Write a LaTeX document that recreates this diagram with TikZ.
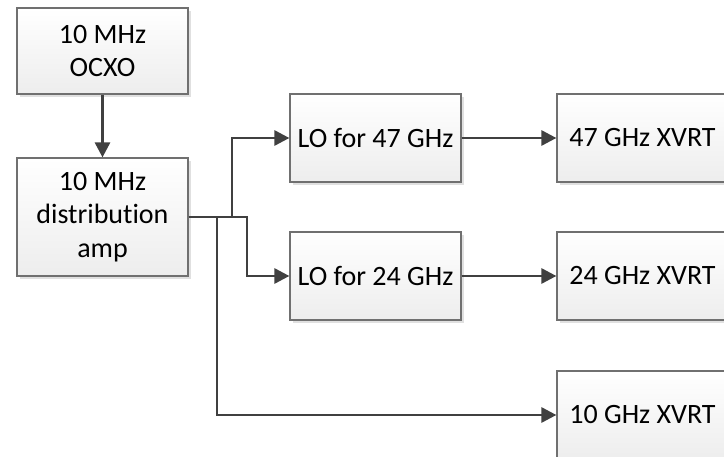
\documentclass[tikz,border=0pt]{standalone}
\usepackage{fontspec}
\setmainfont{Carlito}[RawFeature={-liga;-clig;-calt;-dlig}]
\usetikzlibrary{arrows.meta,shadows}
\definecolor{boxline}{RGB}{112,112,112}
\definecolor{wire}{RGB}{64,64,64}
\begin{document}
\begin{tikzpicture}[
            x=1pt, y=-1pt,
            block/.style={rectangle, draw=boxline, line width=1.2pt, top color=white, bottom color=gray!14,
                minimum width=171pt, inner sep=2pt, align=center,
                font=\fontsize{28}{33.5}\selectfont,
                drop shadow={shadow xshift=3pt, shadow yshift=-3pt, fill=black, opacity=0.12}},
            link/.style={draw=wire, line width=2.8pt, -{Triangle[length=15pt,width=15pt]}}
        ]
            \clip (0,0) rectangle (724,457);
            \node[block, minimum height=86pt]  (ocxo) at (102.5, 51)  {10 MHz\\OCXO};
            \node[block, minimum height=118pt] (amp)  at (102.5, 217) {10 MHz\\distribution\\amp};
            \node[block, minimum height=88pt]  (lo47) at (375.5, 138) {LO for 47 GHz};
            \node[block, minimum height=88pt]  (lo24) at (375.5, 276) {LO for 24 GHz};
            \node[block, minimum height=88pt]  (x47)  at (642.5, 138) {47 GHz XVRT};
            \node[block, minimum height=88pt]  (x24)  at (642.5, 276) {24 GHz XVRT};
            \node[block, minimum height=88pt]  (x10)  at (642.5, 415) {10 GHz XVRT};
            \coordinate (tap10) at (217, 217);
            \coordinate (tap47) at (232, 217);
            \coordinate (tap24) at (247, 217);
            \draw[link] (ocxo) -- (amp);
            \draw[link] (amp.east) -- (tap47) |- (lo47);
            \draw[link] (amp.east) -- (tap24) |- (lo24);
            \draw[link] (tap10) |- (x10);
            \draw[link] (lo47) -- (x47);
            \draw[link] (lo24) -- (x24);
        \end{tikzpicture}
\end{document}
